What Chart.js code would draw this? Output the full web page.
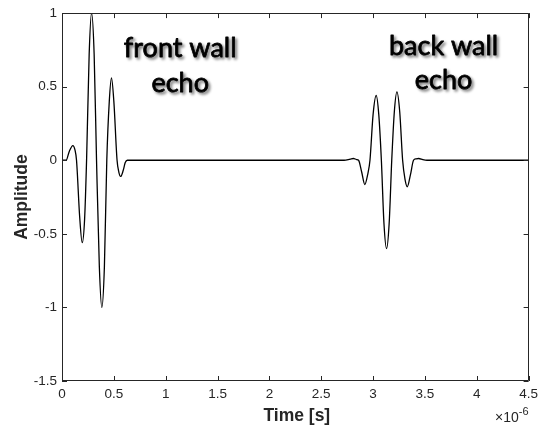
<!DOCTYPE html>
<html>
<head>
<meta charset="utf-8">
<script src="https://cdn.jsdelivr.net/npm/chart.js@4/dist/chart.umd.min.js"></script>
<style>
html,body{margin:0;padding:0;background:#fff;}
#wrap{width:543px;height:430px;position:relative;}
</style>
</head>
<body>
<div id="wrap"><canvas id="c" width="543" height="430"></canvas></div>
<script>
// time in units of 1e-6 s
const timeValues = [0, 0.04, 0.07, 0.105, 0.125, 0.14, 0.17, 0.195, 0.218, 0.237, 0.262, 0.285, 0.31, 0.333, 0.36, 0.384, 0.409, 0.432, 0.456, 0.477, 0.5, 0.531, 0.548, 0.566, 0.59, 0.61, 0.63, 1.0, 2.0, 2.6, 2.72, 2.78, 2.81, 2.84, 2.86, 2.89, 2.92, 2.95, 2.97, 3.0, 3.03, 3.055, 3.08, 3.105, 3.13, 3.155, 3.18, 3.205, 3.23, 3.257, 3.285, 3.308, 3.33, 3.36, 3.39, 3.415, 3.44, 3.48, 3.52, 4.0, 4.5];
const amplitudeValues = [0, 0.0, 0.06, 0.1, 0.07, 0, -0.38, -0.56, -0.4, 0, 0.72, 1.0, 0.72, 0, -0.72, -1.0, -0.72, 0, 0.4, 0.56, 0.4, 0, -0.08, -0.11, -0.07, -0.015, 0, 0, 0, 0, 0.0, 0.008, 0.012, 0.005, 0, -0.08, -0.165, -0.09, 0, 0.31, 0.44, 0.31, 0, -0.43, -0.6, -0.43, 0, 0.33, 0.465, 0.33, 0, -0.13, -0.18, -0.1, 0, 0.01, 0.012, 0.004, 0, 0, 0];
const xTicks = [0, 0.5, 1, 1.5, 2, 2.5, 3, 3.5, 4, 4.5];
const yTicks = [-1.5, -1, -0.5, 0, 0.5, 1];
const xTitle = 'Time [s]';
const yTitle = 'Amplitude';
const xExponent = '-6';
const annotations = [
  {lines: ['front wall', 'echo'], x: 1.14, y: [0.70, 0.462]},
  {lines: ['back wall', 'echo'], x: 3.68, y: [0.716, 0.486]}
];

const points = timeValues.map((t, i) => ({x: t, y: amplitudeValues[i]}));
const AXIS = '#262626';
const SANS = 'Arial, "Liberation Sans", sans-serif';

const decor = {
  id: 'decor',
  afterDraw(chart) {
    const {ctx, chartArea: a, scales: {x, y}} = chart;
    ctx.save();
    ctx.strokeStyle = AXIS;
    ctx.lineWidth = 1;
    ctx.beginPath();
    ctx.rect(Math.round(a.left) + 0.5, Math.round(a.top) + 0.5, Math.round(a.right - a.left) - 1, Math.round(a.bottom - a.top) - 1);
    ctx.stroke();
    const tl = 5;
    ctx.beginPath();
    xTicks.forEach(v => {
      const px = Math.round(x.getPixelForValue(v)) + 0.5;
      ctx.moveTo(px, a.bottom); ctx.lineTo(px, a.bottom - tl);
      ctx.moveTo(px, a.top); ctx.lineTo(px, a.top + tl);
    });
    yTicks.forEach(v => {
      const py = Math.round(y.getPixelForValue(v)) + 0.5;
      ctx.moveTo(a.left, py); ctx.lineTo(a.left + tl, py);
      ctx.moveTo(a.right, py); ctx.lineTo(a.right - tl, py);
    });
    ctx.stroke();

    // axis titles
    ctx.fillStyle = AXIS;
    ctx.font = 'bold 17.5px ' + SANS;
    ctx.textAlign = 'center';
    ctx.textBaseline = 'alphabetic';
    ctx.fillText(xTitle, (a.left + a.right) / 2 + 1.5, 421);
    ctx.save();
    ctx.translate(27, (a.top + a.bottom) / 2);
    ctx.rotate(-Math.PI / 2);
    ctx.fillText(yTitle, 0, 0);
    ctx.restore();

    // exponent (right-aligned to the axis end)
    ctx.font = '11px ' + SANS;
    const ws = ctx.measureText(xExponent).width;
    ctx.font = '14px ' + SANS;
    const wb = ctx.measureText('\u00d710').width;
    const x0 = a.right - ws - wb;
    ctx.textAlign = 'left';
    ctx.fillText('\u00d710', x0, 422);
    ctx.font = '11px ' + SANS;
    ctx.fillText(xExponent, x0 + wb, 415);

    // annotations
    ctx.font = '27px Lato, "Open Sans", sans-serif';
    ctx.textAlign = 'center';
    ctx.fillStyle = '#000';
    ctx.strokeStyle = '#000';
    ctx.lineWidth = 0.8;
    ctx.lineJoin = 'round';
    ctx.shadowColor = 'rgba(0,0,0,0.45)';
    ctx.shadowOffsetX = 2;
    ctx.shadowOffsetY = 2;
    ctx.shadowBlur = 3;
    annotations.forEach(an => {
      an.lines.forEach((ln, i) => {
        const px = x.getPixelForValue(an.x), py = y.getPixelForValue(an.y[i]);
        ctx.fillText(ln, px, py);
        ctx.strokeText(ln, px, py);
      });
    });
    ctx.restore();
  }
};

const fmt = v => String(v);

new Chart(document.getElementById('c'), {
  type: 'line',
  data: {
    datasets: [{
      data: points,
      borderColor: '#000',
      borderWidth: 1.3,
      pointRadius: 0,
      fill: false,
      cubicInterpolationMode: 'monotone'
    }]
  },
  options: {
    responsive: false,
    animation: false,
    events: [],
    layout: {padding: {top: 11, right: 12, left: 0, bottom: 0}},
    plugins: {legend: {display: false}, tooltip: {enabled: false}},
    scales: {
      x: {
        type: 'linear', min: 0, max: 4.5,
        afterBuildTicks: s => { s.ticks = xTicks.map(v => ({value: v})); },
        afterFit: s => { s.height = 49; },
        grid: {display: false, drawTicks: false},
        border: {display: false},
        ticks: {color: AXIS, padding: 5, maxRotation: 0, autoSkip: false, callback: fmt, font: {family: SANS, size: 13.5}}
      },
      y: {
        type: 'linear', min: -1.5, max: 1,
        afterBuildTicks: s => { s.ticks = yTicks.map(v => ({value: v})); },
        afterFit: s => { s.width = 62; },
        grid: {display: false, drawTicks: false},
        border: {display: false},
        ticks: {color: AXIS, padding: 5, autoSkip: false, callback: fmt, font: {family: SANS, size: 13.5}}
      }
    }
  },
  plugins: [decor]
});
</script>
</body>
</html>
